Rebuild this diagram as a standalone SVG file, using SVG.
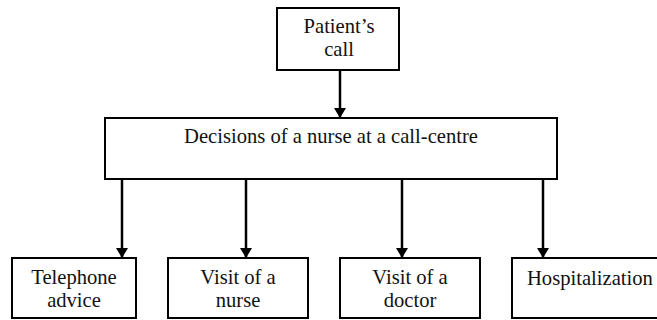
<svg xmlns="http://www.w3.org/2000/svg" width="657" height="320" viewBox="0 0 657 320">
<style>
.box{fill:#fff;stroke:#000;stroke-width:2}
.t{font-family:"Liberation Serif","Times New Roman",Times,serif;font-size:20.6px;fill:#111}
.c{stroke:#000;stroke-width:2.5;fill:none}
</style>
<defs>
<marker id="ah" viewBox="0 0 10 12" refX="10" refY="6" markerWidth="10" markerHeight="12" markerUnits="userSpaceOnUse" orient="auto">
<path d="M0,0 L10,6 L0,12 Z" fill="#000"/>
</marker>
</defs>
<rect width="657" height="320" fill="#fff"/>
<g id="connectors">
<line class="c" x1="340" y1="70" x2="340" y2="118" marker-end="url(#ah)"/>
<line class="c" x1="122" y1="179" x2="122" y2="258" marker-end="url(#ah)"/>
<line class="c" x1="246" y1="179" x2="246" y2="258" marker-end="url(#ah)"/>
<line class="c" x1="402" y1="179" x2="402" y2="258" marker-end="url(#ah)"/>
<line class="c" x1="543" y1="179" x2="543" y2="258" marker-end="url(#ah)"/>
</g>
<g id="call">
<rect class="box" x="277" y="8" width="122" height="62"/>
<text class="t" x="339" y="33" text-anchor="middle">Patient’s</text>
<text class="t" x="339" y="56" text-anchor="middle">call</text>
</g>
<g id="decisions">
<rect class="box" x="105" y="118" width="452" height="61"/>
<text class="t" x="331" y="143" text-anchor="middle">Decisions of a nurse at a call-centre</text>
</g>
<g id="telephone">
<rect class="box" x="12" y="258" width="124" height="60"/>
<text class="t" x="74" y="284" text-anchor="middle">Telephone</text>
<text class="t" x="74" y="307" text-anchor="middle">advice</text>
</g>
<g id="nurse">
<rect class="box" x="168" y="258" width="140" height="60"/>
<text class="t" x="238" y="284" text-anchor="middle">Visit of a</text>
<text class="t" x="238" y="307" text-anchor="middle">nurse</text>
</g>
<g id="doctor">
<rect class="box" x="340" y="258" width="140" height="60"/>
<text class="t" x="410" y="284" text-anchor="middle">Visit of a</text>
<text class="t" x="410" y="307" text-anchor="middle">doctor</text>
</g>
<g id="hospitalization">
<rect class="box" x="512" y="258" width="150" height="60"/>
<text class="t" x="527" y="285">Hospitalization</text>
</g>
</svg>
